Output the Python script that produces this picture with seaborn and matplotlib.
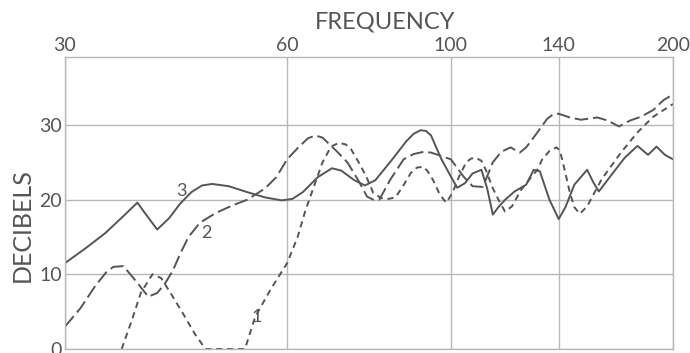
import pandas as pd
import matplotlib
matplotlib.use("Agg")
import matplotlib.pyplot as plt
import seaborn as sns

# curve 1 (short dashes)
freq_1 = [35.8, 37, 38, 39.4, 40.5, 42, 43.5, 45, 46.5, 49, 52.6, 54.3, 57, 60, 62,
          63.5, 65.2, 67, 68.8, 70.5, 72, 73.3, 75, 76.8, 78.5, 80.5, 82.3, 84.1, 86,
          88.3, 90, 91.8, 93, 94.5, 96.5, 97.8, 98.6, 100.5, 102.5, 104.9, 106.5,
          108.1, 110, 111.5, 114, 116, 118.4, 121, 124.5, 128, 131, 133, 136, 139,
          140.5, 141.5, 143, 145, 147, 149.5, 153, 160, 170, 179, 188, 200]
db_1 = [0, 4.0, 7.5, 10.0, 9.5, 7.0, 4.5, 2.0, 0, 0, 0, 4.3, 8.0, 11.5, 15.0,
        18.5, 21.7, 25.0, 27.1, 27.6, 27.4, 26.7, 25.0, 23.1, 20.9, 20.2, 20.1, 20.3, 21.7,
        23.6, 24.3, 24.4, 23.8, 22.7, 20.8, 20.0, 19.6, 20.9, 23.0, 25.0, 25.5,
        25.6, 25.2, 24.0, 21.5, 20.0, 18.4, 19.1, 21.3, 22.8, 24.0, 25.4, 26.5, 27.0,
        26.6, 25.4, 23.5, 20.9, 19.0, 18.1, 19.1, 22.7, 26.3, 29.0, 31.1, 32.8]

# curve 2 (long dashes)
freq_2 = [30, 31.5, 33, 34.2, 34.9, 36, 37.5, 38.9, 40, 41, 42, 43, 44.1, 45.7, 48, 50.5,
          53, 56, 58, 60, 62, 64, 65.5, 67, 70, 72.4, 75, 77, 78.5, 80, 82.8, 86.3, 89,
          91.8, 94, 96, 100, 104, 107, 110.5, 114, 117, 120.5, 124, 126.5, 131, 135, 137.5,
          140, 145, 150, 158, 163, 169, 175, 181, 188, 194, 200]
db_2 = [3.0, 5.5, 8.5, 10.4, 11.0, 11.1, 9.0, 7.0, 7.5, 8.8, 10.5, 12.8, 15.0, 16.9, 18.2, 19.2,
        20.0, 21.5, 23.0, 25.4, 26.9, 28.2, 28.6, 28.3, 26.5, 25.0, 22.5, 20.4, 20.0, 20.0, 22.7, 25.4, 26.1,
        26.4, 26.3, 26.0, 25.4, 23.1, 21.8, 21.7, 25.0, 26.4, 27.0, 26.3, 27.0, 29.0, 30.8, 31.4,
        31.5, 31.0, 30.7, 31.0, 30.6, 29.8, 30.6, 31.1, 32.0, 33.3, 34.1]

# curve 3 (solid)
freq_3 = [30, 32, 34, 36, 37.6, 38.5, 40, 41.5, 43, 44.5, 46, 47.5, 50, 53, 56, 59,
          61, 63, 66, 69, 71, 74, 76.5, 79, 83, 87, 89, 91, 92.5, 94, 97, 100, 102,
          104.5, 107, 110, 112, 114, 116, 118.5, 122, 126.5, 129.5, 132, 136, 140,
          143, 147, 153, 156, 158.7, 165, 172, 179, 185, 190, 195, 200]
db_3 = [11.5, 13.5, 15.5, 17.8, 19.6, 18.2, 16.0, 17.5, 19.5, 21.0, 21.9, 22.1, 21.8, 21.0, 20.3, 19.9,
        20.1, 21.0, 23.0, 24.2, 23.9, 22.6, 21.9, 22.6, 25.2, 27.8, 28.8, 29.3, 29.2, 28.6, 25.5, 23.1, 21.6,
        22.2, 23.5, 24.0, 21.5, 18.0, 19.0, 20.0, 21.1, 22.0, 24.0, 23.8, 20.0, 17.4,
        19.0, 22.0, 24.0, 22.3, 21.1, 23.3, 25.6, 27.2, 26.0, 27.1, 26.0, 25.4]

freq_ticks = [30, 60, 100, 140, 200]
db_ticks = [0, 10, 20, 30]
curve_labels = ["1", "2", "3"]
label_pos = [(54.6, 4.3), (46.6, 15.5), (43.1, 21.2)]

sns.set_style("white")
plt.rcParams["font.family"] = ["Lato", "DejaVu Sans"]

ink = "#555555"
grid_c = "#b8b8b8"

fig = plt.figure(figsize=(6.9, 3.53), dpi=100)
ax = fig.add_axes([65 / 690, 4 / 353, 608 / 690, 292 / 353])

styles = [(0, (3.2, 2.4)), (0, (7, 2.5)), "-"]
for f, d, ls in zip([freq_1, freq_2, freq_3], [db_1, db_2, db_3], styles):
    df = pd.DataFrame({"freq": f, "db": d})
    sns.lineplot(data=df, x="freq", y="db", ax=ax, color=ink, linewidth=1.4,
                 linestyle=ls, sort=False, estimator=None)

ax.set_xscale("log")
ax.set_xlim(30, 200)
ax.set_ylim(0, 39.1)
ax.minorticks_off()
ax.set_xticks(freq_ticks)
ax.set_xticklabels([str(t) for t in freq_ticks])
ax.set_yticks(db_ticks)
ax.set_yticklabels([str(t) for t in db_ticks])
ax.xaxis.tick_top()
ax.tick_params(axis="x", length=0, pad=2, labelsize=14, colors=ink)
ax.tick_params(axis="y", length=0, pad=2, labelsize=14, colors=ink)
ax.grid(True, color=grid_c, linewidth=1.0)
for s in ax.spines.values():
    s.set_color(grid_c)
    s.set_linewidth(1.0)
ax.set_xlabel("")
ax.set_ylabel("")

for txt, (x, y) in zip(curve_labels, label_pos):
    ax.text(x, y, txt, fontsize=13, color=ink, ha="center", va="center")

fig.text(385 / 690, 1 - 22 / 353, "FREQUENCY", fontsize=17, color=ink,
         ha="center", va="center")
fig.text(22 / 690, 1 - 225 / 353, "DECIBELS", fontsize=18, color=ink, rotation=90,
         ha="center", va="center")

fig.savefig("out.png", dpi=100)
